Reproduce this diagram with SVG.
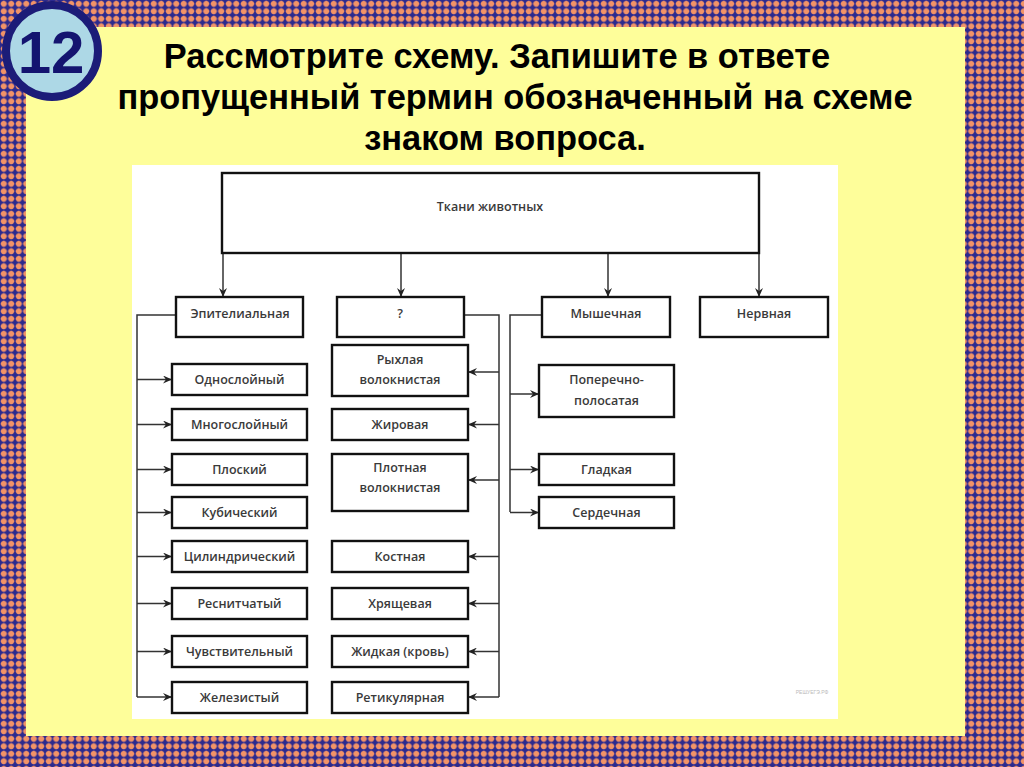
<svg xmlns="http://www.w3.org/2000/svg" width="1024" height="767" viewBox="0 0 1024 767">
<style>
.title{font-family:"Liberation Sans",Arial,sans-serif;font-weight:bold;font-size:34.4px;fill:#000;text-anchor:middle}
.box{fill:#fff;stroke:#111;stroke-width:2.4}
.lbl{font-family:"Open Sans","Liberation Sans",sans-serif;font-size:12.5px;font-weight:600;fill:#3a3a3a;text-anchor:middle}
.con{fill:none;stroke:#333;stroke-width:1.5}
</style>
<defs>
<pattern id="bg" width="7.5" height="7.5" patternUnits="userSpaceOnUse">
<rect width="7.5" height="7.5" fill="#7a5588"/>
<circle cx="0" cy="0" r="3.3" fill="#2c2a8e"/>
<circle cx="7.5" cy="0" r="3.3" fill="#2c2a8e"/>
<circle cx="0" cy="7.5" r="3.3" fill="#2c2a8e"/>
<circle cx="7.5" cy="7.5" r="3.3" fill="#2c2a8e"/>
<circle cx="3.75" cy="3.75" r="2.9" fill="#f29367"/>
</pattern>
<marker id="ah" markerUnits="userSpaceOnUse" markerWidth="10" markerHeight="8" refX="9" refY="4" orient="auto">
<path d="M0,0 L9,4 L0,8 L3,4 z" fill="#222"/>
</marker>
</defs>
<rect width="1024" height="767" fill="url(#bg)"/>
<rect x="26" y="27" width="939" height="709" fill="#fefe9a"/>
<g id="badge">
<circle cx="52" cy="51" r="46" fill="#add8e6" stroke="#1c1c78" stroke-width="8"/>
<text x="51" y="73" font-family="Liberation Sans,Arial,sans-serif" font-weight="bold" font-size="60" fill="#141470" text-anchor="middle">12</text>
</g>
<g id="title">
<text class="title" x="497" y="68">Рассмотрите схему. Запишите в ответе</text>
<text class="title" x="515" y="109">пропущенный термин обозначенный на схеме</text>
<text class="title" x="505" y="150">знаком вопроса.</text>
</g>
<rect x="132" y="165" width="706" height="554" fill="#fff"/>
<text x="812" y="694" font-family="Liberation Sans,sans-serif" font-size="5" fill="#bbb" text-anchor="middle">РЕШУЕГЭ.РФ</text>
<g id="connectors">
<path class="con" marker-end="url(#ah)" d="M223,253 V297"/>
<path class="con" marker-end="url(#ah)" d="M401,253 V297"/>
<path class="con" marker-end="url(#ah)" d="M608,253 V297"/>
<path class="con" marker-end="url(#ah)" d="M759,253 V297"/>
<path class="con" d="M176,315 H137 V697"/>
<path class="con" marker-end="url(#ah)" d="M137,379.5 H172"/>
<path class="con" marker-end="url(#ah)" d="M137,424.5 H172"/>
<path class="con" marker-end="url(#ah)" d="M137,469.5 H172"/>
<path class="con" marker-end="url(#ah)" d="M137,512.5 H172"/>
<path class="con" marker-end="url(#ah)" d="M137,556.5 H172"/>
<path class="con" marker-end="url(#ah)" d="M137,603.5 H172"/>
<path class="con" marker-end="url(#ah)" d="M137,651.5 H172"/>
<path class="con" marker-end="url(#ah)" d="M137,697 H172"/>
<path class="con" d="M464,315 H499 V697"/>
<path class="con" marker-end="url(#ah)" d="M499,372 H468"/>
<path class="con" marker-end="url(#ah)" d="M499,424.5 H468"/>
<path class="con" marker-end="url(#ah)" d="M499,480 H468"/>
<path class="con" marker-end="url(#ah)" d="M499,556.5 H468"/>
<path class="con" marker-end="url(#ah)" d="M499,603.5 H468"/>
<path class="con" marker-end="url(#ah)" d="M499,651.5 H468"/>
<path class="con" marker-end="url(#ah)" d="M499,697 H468"/>
<path class="con" d="M542,315 H510 V512"/>
<path class="con" marker-end="url(#ah)" d="M510,394 H539"/>
<path class="con" marker-end="url(#ah)" d="M510,469.5 H539"/>
<path class="con" marker-end="url(#ah)" d="M510,512.5 H539"/>
</g>
<g id="root"><rect class="box" x="222" y="173" width="537" height="80"/><text class="lbl" x="490" y="211">Ткани животных</text></g>
<g id="epith"><rect class="box" x="176" y="297" width="127" height="40"/><text class="lbl" x="240" y="318">Эпителиальная</text></g>
<g id="unknown"><rect class="box" x="337" y="297" width="127" height="40"/><text class="lbl" x="400" y="318">?</text></g>
<g id="muscle"><rect class="box" x="542" y="297" width="128" height="40"/><text class="lbl" x="606" y="318">Мышечная</text></g>
<g id="nerve"><rect class="box" x="700" y="297" width="128" height="40"/><text class="lbl" x="764" y="318">Нервная</text></g>
<g id="e1"><rect class="box" x="172" y="364" width="135" height="31"/><text class="lbl" x="239.5" y="384">Однослойный</text></g>
<g id="e2"><rect class="box" x="172" y="409" width="135" height="31"/><text class="lbl" x="239.5" y="429">Многослойный</text></g>
<g id="e3"><rect class="box" x="172" y="454" width="135" height="31"/><text class="lbl" x="239.5" y="474">Плоский</text></g>
<g id="e4"><rect class="box" x="172" y="497" width="135" height="31"/><text class="lbl" x="239.5" y="517">Кубический</text></g>
<g id="e5"><rect class="box" x="172" y="541" width="135" height="31"/><text class="lbl" x="239.5" y="561">Цилиндрический</text></g>
<g id="e6"><rect class="box" x="172" y="588" width="135" height="31"/><text class="lbl" x="239.5" y="608">Реснитчатый</text></g>
<g id="e7"><rect class="box" x="172" y="636" width="135" height="31"/><text class="lbl" x="239.5" y="656">Чувствительный</text></g>
<g id="e8"><rect class="box" x="172" y="682" width="135" height="31"/><text class="lbl" x="239.5" y="702">Железистый</text></g>
<g id="c1"><rect class="box" x="332" y="345" width="136" height="51"/><text class="lbl" x="400" y="364">Рыхлая</text><text class="lbl" x="400" y="384">волокнистая</text></g>
<g id="c2"><rect class="box" x="332" y="409" width="136" height="31"/><text class="lbl" x="400" y="429">Жировая</text></g>
<g id="c3"><rect class="box" x="332" y="454" width="136" height="57"/><text class="lbl" x="400" y="472">Плотная</text><text class="lbl" x="400" y="492">волокнистая</text></g>
<g id="c4"><rect class="box" x="332" y="541" width="136" height="31"/><text class="lbl" x="400" y="561">Костная</text></g>
<g id="c5"><rect class="box" x="332" y="588" width="136" height="31"/><text class="lbl" x="400" y="608">Хрящевая</text></g>
<g id="c6"><rect class="box" x="332" y="636" width="136" height="31"/><text class="lbl" x="400" y="656">Жидкая (кровь)</text></g>
<g id="c7"><rect class="box" x="332" y="682" width="136" height="31"/><text class="lbl" x="400" y="702">Ретикулярная</text></g>
<g id="m1"><rect class="box" x="539" y="365" width="135" height="52"/><text class="lbl" x="606.5" y="384">Поперечно-</text><text class="lbl" x="606.5" y="405">полосатая</text></g>
<g id="m2"><rect class="box" x="539" y="454" width="135" height="31"/><text class="lbl" x="606.5" y="474">Гладкая</text></g>
<g id="m3"><rect class="box" x="539" y="497" width="135" height="31"/><text class="lbl" x="606.5" y="517">Сердечная</text></g>
</svg>
